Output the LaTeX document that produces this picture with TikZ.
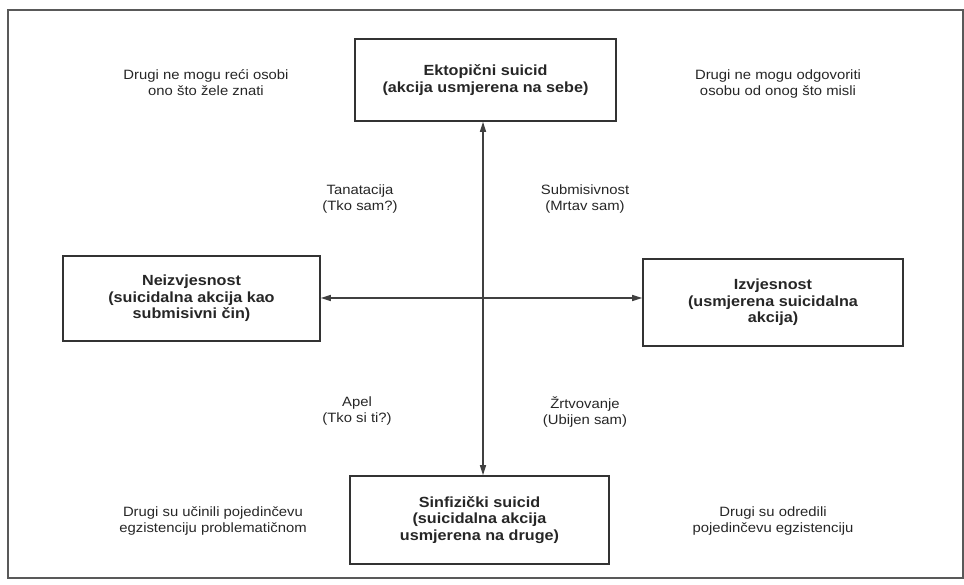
\documentclass[tikz,border=0pt]{standalone}
\usepackage{fontspec}
\setmainfont{Liberation Sans}[FakeStretch=1.1]
\usetikzlibrary{arrows.meta}
\begin{document}
\begin{tikzpicture}[x=1pt,y=-1pt,
  lbl/.style={align=center,font=\fontsize{13.5}{16}\selectfont,text=black!85,inner sep=0pt},
  boxn/.style={draw=black!80,line width=1.6pt,align=center,inner sep=0pt,
    font=\fontsize{14.7}{16.5}\selectfont\bfseries,text=black!85},
  conn/.style={draw=black!75,line width=1.3pt,{Triangle[length=10pt,width=6pt]}-{Triangle[length=10pt,width=6pt]}}]
\useasboundingbox (0,0) rectangle (964,585);
\draw[black!65,line width=1.2pt] (8,10) rectangle (963,578);
\node[boxn,minimum width=261pt,minimum height=82pt] (top) at (485.5,80) {Ektopični suicid\\(akcija usmjerena na sebe)};
\node[boxn,minimum width=257pt,minimum height=85pt] (left) at (191.5,298.5) {Neizvjesnost\\(suicidalna akcija kao\\submisivni čin)};
\node[boxn,minimum width=260pt,minimum height=87pt] (right) at (773,302.5) {Izvjesnost\\(usmjerena suicidalna\\akcija)};
\node[boxn,minimum width=259pt,minimum height=88pt] (bot) at (479.5,520) {Sinfizički suicid\\(suicidalna akcija\\usmjerena na druge)};
\coordinate (vx) at (483,300);
\coordinate (hy) at (480,298);
\draw[conn] (top.south -| vx) -- (bot.north -| vx);
\draw[conn] (left.east |- hy) -- (right.west |- hy);
\node[lbl] (tl) at (206,83) {Drugi ne mogu reći osobi\\ono što žele znati};
\node[lbl] (tr) at (778,84) {Drugi ne mogu odgovoriti\\osobu od onog što misli};
\node[lbl] (tan) at (360,199) {Tanatacija\\(Tko sam?)};
\node[lbl] (sub) at (585,199) {Submisivnost\\(Mrtav sam)};
\node[lbl] (apel) at (357,411) {Apel\\(Tko si ti?)};
\node[lbl] (zrt) at (585,412) {Žrtvovanje\\(Ubijen sam)};
\node[lbl] (bl) at (213,521) {Drugi su učinili pojedinčevu\\egzistenciju problematičnom};
\node[lbl] (br) at (773,521) {Drugi su odredili\\pojedinčevu egzistenciju};
\end{tikzpicture}
\end{document}
